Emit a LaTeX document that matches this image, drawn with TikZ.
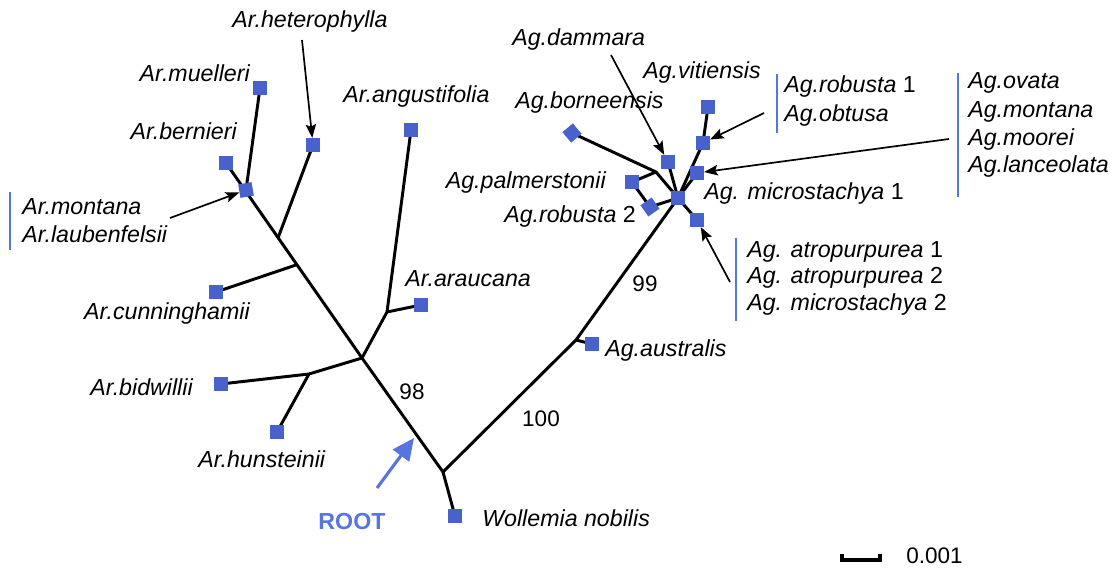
\documentclass[tikz,border=0pt]{standalone}
\usepackage{fontspec}
\setmainfont{Liberation Sans}
\usetikzlibrary{arrows.meta, backgrounds}
\definecolor{tipblue}{RGB}{72,98,204}
\definecolor{barblue}{RGB}{88,116,222}

\begin{document}
\begin{tikzpicture}[
    x=0.025cm, y=-0.025cm,
    leaf/.style={rectangle, fill=tipblue, minimum size=0.34cm, inner sep=0pt},
    branch/.style={line width=2.1pt, line join=round, line cap=round},
    taxon/.style={anchor=west, inner sep=0pt, font=\fontsize{16.5}{18}\selectfont\itshape},
    support/.style={inner sep=0pt, font=\fontsize{16}{18}\selectfont},
    pointer/.style={-{Stealth[length=3.4mm, width=2.6mm, inset=0.6mm]}, line width=1.2pt},
    group/.style={draw=barblue, line width=2pt}
]
\useasboundingbox (0,0) rectangle (1119,570);

% Araucaria tips
\node[leaf] (muelleri) at (260,88) {};
\node[leaf] (bernieri) at (226,163) {};
\node[leaf, rotate=10] (montana) at (246,190) {};
\node[leaf] (heterophylla) at (313,145) {};
\node[leaf] (angustifolia) at (411,130) {};
\node[leaf] (cunninghamii) at (216,292) {};
\node[leaf] (araucana) at (421,305) {};
\node[leaf] (bidwillii) at (221,384) {};
\node[leaf] (hunsteinii) at (277,432) {};
\node[leaf] (wollemia) at (455,516) {};
% Agathis tips
\node[leaf] (australis) at (592,344) {};
\node[leaf] (micro) at (678,198) {};
\node[leaf] (atropurp) at (697,220) {};
\node[leaf, rotate=35] (robustaB) at (650,207) {};
\node[leaf] (palmerst) at (632,182) {};
\node[leaf, rotate=40] (borneens) at (572,133) {};
\node[leaf] (dammara) at (668,162) {};
\node[leaf] (ovata) at (697,173) {};
\node[leaf] (robustaA) at (703,143) {};
\node[leaf] (vitiens) at (708,107) {};

% inner nodes
\coordinate (root) at (443,472);
\coordinate (arA) at (362,358);
\coordinate (bidJ) at (309,374);
\coordinate (arJ) at (387,312);
\coordinate (cunJ) at (296,265);
\coordinate (hetJ) at (278,238);
\coordinate (ausJ) at (576,340);
\coordinate (palJ) at (656,172);

\begin{scope}[on background layer]
\draw[branch] (wollemia.center) -- (root) -- (arA) -- (bernieri.center);
\draw[branch] (hetJ) -- (heterophylla.center);
\draw[branch] (cunJ) -- (cunninghamii.center);
\draw[branch] (montana.center) -- (muelleri.center);
\draw[branch] (arA) -- (arJ) -- (angustifolia.center);
\draw[branch] (arJ) -- (araucana.center);
\draw[branch] (arA) -- (bidJ) -- (bidwillii.center);
\draw[branch] (bidJ) -- (hunsteinii.center);
\draw[branch] (root) -- (ausJ) -- (micro.center);
\draw[branch] (ausJ) -- (australis.center);
\draw[branch] (borneens.center) -- (palJ) -- (micro.center) -- (atropurp.center);
\draw[branch] (palmerst.center) -- (palJ);
\draw[branch] (palmerst.center) -- (robustaB.center) -- (micro.center);
\draw[branch] (dammara.center) -- (micro.center);
\draw[branch] (vitiens.center) -- (robustaA.center) -- (micro.center);
\draw[branch] (ovata.center) -- (micro.center);
\end{scope}

% labels
\node[taxon] (lHet) at (232,22) {Ar.heterophylla};
\node[taxon, anchor=east] (lMue) at (250,73) {Ar.muelleri};
\node[taxon, anchor=east] (lBer) at (237,131) {Ar.bernieri};
\node[taxon] (lAng) at (343,97) {Ar.angustifolia};
\node[taxon] (lMon) at (22,207) {Ar.montana};
\node[taxon] (lLau) at (22,234) {Ar.laubenfelsii};
\node[taxon, anchor=east] (lCun) at (250,314) {Ar.cunninghamii};
\node[taxon] (lAra) at (405,279) {Ar.araucana};
\node[taxon, anchor=east] (lBid) at (193,387) {Ar.bidwillii};
\node[taxon] (lHun) at (198,459) {Ar.hunsteinii};
\node[taxon] (lWol) at (482,518) {Wollemia nobilis};
\node[taxon] (lDam) at (512,40) {Ag.dammara};
\node[taxon] (lVit) at (643,73) {Ag.vitiensis};
\node[taxon] (lBor) at (515,103) {Ag.borneensis};
\node[taxon, anchor=east] (lPal) at (606,183) {Ag.palmerstonii};
\node[taxon] (lRobB) at (504,217) {Ag.robusta \textup{2}};
\node[taxon] (lMicA) at (704,194) {Ag. microstachya \textup{1}};
\node[taxon] (lRobA) at (784,87) {Ag.robusta \textup{1}};
\node[taxon] (lObt) at (784,116) {Ag.obtusa};
\node[taxon] (lOva) at (968,83) {Ag.ovata};
\node[taxon] (lMonAg) at (968,112) {Ag.montana};
\node[taxon] (lMoo) at (968,140) {Ag.moorei};
\node[taxon] (lLan) at (968,167) {Ag.lanceolata};
\node[taxon] (lAtrA) at (747,252) {Ag. atropurpurea \textup{1}};
\node[taxon] (lAtrB) at (747,278) {Ag. atropurpurea \textup{2}};
\node[taxon] (lMicB) at (747,305) {Ag. microstachya \textup{2}};
\node[taxon] (lAus) at (605,351) {Ag.australis};
\node[support] (b98) at (412,392) {98};
\node[support] (b100) at (541,419) {100};
\node[support] (b99) at (645,284) {99};
\node[support, text=barblue, font=\fontsize{16.5}{18}\selectfont\bfseries] (lRoot) at (352,522) {ROOT};
\node[support, anchor=west] (lScale) at (906,556) {0.001};

% groups
\coordinate (gMonT) at (10,192);  \coordinate (gMonB) at (10,250);
\coordinate (gRobT) at (777,74);  \coordinate (gRobB) at (777,133);
\coordinate (gOvaT) at (958,73);  \coordinate (gOvaB) at (958,197);
\coordinate (gAtrT) at (736,238); \coordinate (gAtrB) at (736,321);
\draw[group] (gMonT) -- (gMonB);
\draw[group] (gRobT) -- (gRobB);
\draw[group] (gOvaT) -- (gOvaB);
\draw[group] (gAtrT) -- (gAtrB);

% pointers
\coordinate (pHet) at (302,40);
\coordinate (pMon) at (170,218);
\coordinate (pDam) at (611,55);
\coordinate (pRob) at (764,113);
\coordinate (pOva) at (949,139);
\coordinate (pAtr) at (730,282);
\draw[pointer] (pHet) -- (heterophylla);
\draw[pointer] (pMon) -- (montana);
\draw[pointer] (pDam) -- (dammara);
\draw[pointer] (pRob) -- (robustaA);
\draw[pointer] (pOva) -- (ovata);
\draw[pointer] (pAtr) -- (atropurp);

% root arrow
\coordinate (rootTail) at (377,488);
\coordinate (rootTip) at (414,438);
\draw[barblue, line width=2.2pt, -{Triangle[length=5.5mm, width=5mm]}] (rootTail) -- (rootTip);

% scale bar
\coordinate (sbLT) at (842,554);
\coordinate (sbL) at (842,560);
\coordinate (sbR) at (880,560);
\coordinate (sbRT) at (880,554);
\draw[line width=2.2pt] (sbLT) -- (sbL) -- (sbR) -- (sbRT);
\end{tikzpicture}
\end{document}
